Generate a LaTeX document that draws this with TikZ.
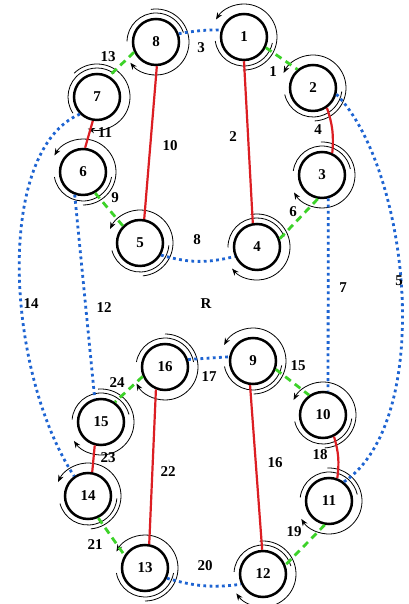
\documentclass[tikz,border=0pt]{standalone}
\usepackage{fontspec}
\setmainfont{Liberation Serif}
\usetikzlibrary{arrows.meta}
\definecolor{myred}{RGB}{220,30,35}
\definecolor{mygreen}{RGB}{60,210,40}
\definecolor{myblue}{RGB}{30,100,210}
\tikzset{
 vtx/.style={circle,draw,line width=2.5pt,minimum size=46pt,inner sep=0pt,font=\fontsize{15}{17}\selectfont\bfseries},
 lbl/.style={font=\fontsize{15}{17}\selectfont\bfseries,inner sep=0pt},
 redE/.style={draw=myred,line width=2.2pt},
 greenE/.style={draw=mygreen,line width=2.8pt,dash pattern=on 7pt off 5pt},
 blueE/.style={draw=myblue,line width=2.8pt,dash pattern=on 2.8pt off 3.4pt},
 spinarc/.style={line width=0.8pt},
}
\newcommand\spinmark[3]{%
 \draw[spinarc] ([shift={({#3+(#2)*40}:29pt)}]#1.center) arc[start angle={#3+(#2)*40}, end angle={#3+(#2)*200}, radius=29pt];
 \draw[spinarc,-{Stealth[length=7pt,width=5.5pt]}] ([shift={({#3+(#2)*120}:33pt)}]#1.center) arc[start angle={#3+(#2)*120}, end angle={#3+(#2)*360}, radius=33pt];
}
\begin{document}
\begin{tikzpicture}[x=1pt,y=1pt]
\useasboundingbox[fill=white] (0,0) rectangle (408,604);
% vertices
\node[vtx] (n1) at (244,567) {1};
\node[vtx] (n2) at (313,516) {2};
\node[vtx] (n3) at (322,429) {3};
\node[vtx] (n4) at (257,357) {4};
\node[vtx] (n5) at (140,361) {5};
\node[vtx] (n6) at (83,432) {6};
\node[vtx] (n7) at (97,507) {7};
\node[vtx] (n8) at (156,562) {8};
\node[vtx] (n9) at (253,243) {9};
\node[vtx] (n10) at (323,189) {10};
\node[vtx] (n11) at (329,103) {11};
\node[vtx] (n12) at (263,30) {12};
\node[vtx] (n13) at (145,36) {13};
\node[vtx] (n14) at (88,108) {14};
\node[vtx] (n15) at (101,182) {15};
\node[vtx] (n16) at (165,237) {16};
% rotation marks
\spinmark{n1}{1}{148}
\spinmark{n2}{1}{153}
\spinmark{n3}{-1}{212}
\spinmark{n4}{-1}{221}
\spinmark{n5}{1}{155}
\spinmark{n6}{1}{150}
\spinmark{n7}{-1}{254}
\spinmark{n8}{-1}{219}
\spinmark{n9}{1}{151}
\spinmark{n10}{1}{153}
\spinmark{n11}{-1}{213}
\spinmark{n12}{-1}{216}
\spinmark{n13}{1}{150}
\spinmark{n14}{1}{155}
\spinmark{n15}{-1}{215}
\spinmark{n16}{-1}{210}
% red edges
\draw[redE] (n1.-90) -- (n4.100);
\draw[redE] (n8.-88) -- (n5.80);
\draw[redE] (n2.-55) to[bend left=12] (n3.65);
\draw[redE] (n7.-100) -- (n6.85);
\draw[redE] (n9.-97) -- (n12.92);
\draw[redE] (n16.-112) -- (n13.80);
\draw[redE] (n10.-63) to[bend left=12] (n11.70);
\draw[redE] (n15.-105) -- (n14.80);
% green edges
\draw[greenE] (n1.-26) -- (n2.130);
\draw[greenE] (n8.205) -- (n7.60);
\draw[greenE] (n3.-100) -- (n4.20);
\draw[greenE] (n6.-60) -- (n5.135);
\draw[greenE] (n9.-20) -- (n10.125);
\draw[greenE] (n16.203) -- (n15.55);
\draw[greenE] (n11.-100) -- (n12.22);
\draw[greenE] (n14.-65) -- (n13.148);
% blue edges
\draw[blueE] (n8.20) to[bend left=5] (n1.163);
\draw[blueE] (n5.-30) to[bend right=15] (n4.203);
\draw[blueE] (n16.18) -- (n9.170);
\draw[blueE] (n13.-25) to[bend right=12] (n12.205);
\draw[blueE] (n3.-75) -- (n10.78);
\draw[blueE] (n6.-110) -- (n15.105);
\draw[blueE] (n7.-135) .. controls (-5,454) and (5,234) .. (n14.125);
\draw[blueE] (n2.-15) .. controls (410,434) and (435,184) .. (n11.52);
% labels
\node[lbl] (l1) at (273,532) {1};
\node[lbl] (l3) at (201,556) {3};
\node[lbl] (l13) at (108,547) {13};
\node[lbl] (l10) at (170,458) {10};
\node[lbl] (l2) at (233,467) {2};
\node[lbl] (l4) at (318,474) {4};
\node[lbl] (l11) at (105,471) {11};
\node[lbl] (l9) at (115,406) {9};
\node[lbl] (l6) at (293,392) {6};
\node[lbl] (l8) at (197,364) {8};
\node[lbl] (l7) at (343,316) {7};
\node[lbl] (l5) at (399,323) {5};
\node[lbl] (l14) at (31,300) {14};
\node[lbl] (l12) at (104,296) {12};
\node[lbl] (lR) at (206,300) {R};
\node[lbl] (l17) at (209,227) {17};
\node[lbl] (l15) at (298,238) {15};
\node[lbl] (l24) at (117,221) {24};
\node[lbl] (l23) at (108,146) {23};
\node[lbl] (l22) at (168,132) {22};
\node[lbl] (l16) at (275,141) {16};
\node[lbl] (l18) at (320,149) {18};
\node[lbl] (l19) at (294,72) {19};
\node[lbl] (l21) at (95,59) {21};
\node[lbl] (l20) at (205,38) {20};
\end{tikzpicture}
\end{document}
